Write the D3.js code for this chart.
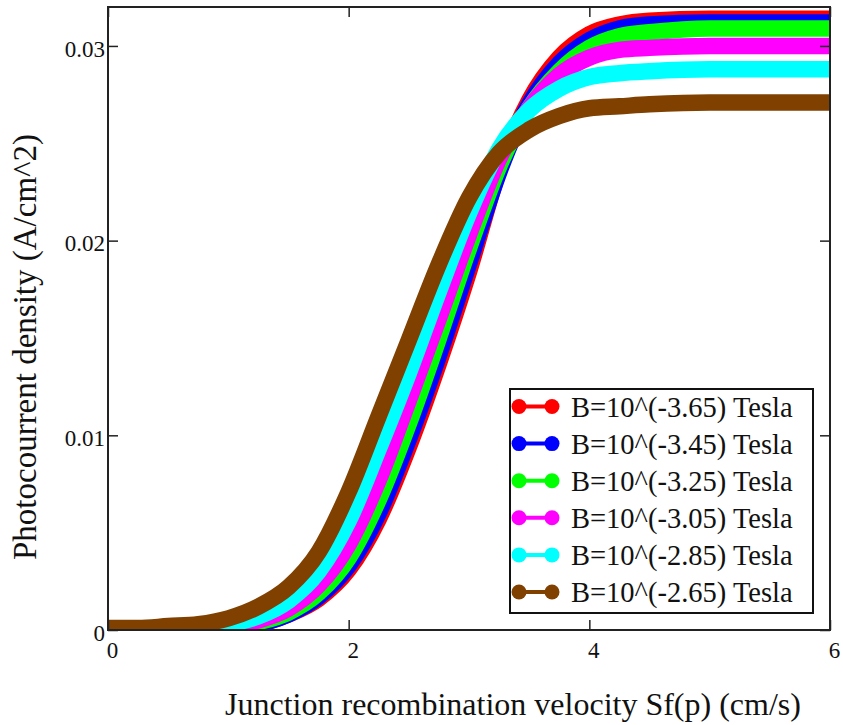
<!DOCTYPE html>
<html>
<head>
<meta charset="utf-8">
<script src="https://cdn.jsdelivr.net/npm/d3@7"></script>
<style>
    body { margin: 0; background: #fff; }
    svg { display: block; }
    .tick-label { font-family: "Liberation Serif", "Times New Roman", serif; fill: #111; }
</style>
</head>
<body>
<div id="chart_area"></div>
<script>
// values (x = log10 Sf, y = photocurrent density)
const sf_values = [0, 0.25, 0.5, 0.75, 1, 1.25, 1.5, 1.75, 2, 2.25, 2.5, 2.75, 3, 3.25, 3.5, 3.75, 4, 4.25, 4.5, 5, 5.5, 6];

const jph_b365 = [0, 0, 0, 0, 0.0001, 0.0003, 0.0008, 0.0016, 0.0031, 0.0057, 0.0094, 0.0137, 0.0184, 0.0236, 0.0272, 0.0294, 0.0306, 0.0311, 0.0313, 0.0314, 0.0314, 0.0314];
const jph_b345 = [0, 0, 0, 0, 0.0001, 0.0003, 0.0008, 0.0017, 0.0033, 0.0060, 0.0098, 0.0141, 0.0188, 0.0235, 0.0270, 0.0291, 0.0303, 0.0309, 0.0311, 0.0312, 0.0312, 0.0312];
const jph_b325 = [0, 0, 0, 0, 0.0001, 0.0004, 0.0009, 0.0019, 0.0037, 0.0067, 0.0106, 0.0150, 0.0196, 0.0238, 0.0268, 0.0287, 0.0299, 0.0305, 0.0307, 0.0309, 0.0309, 0.0309];
const jph_b305 = [0, 0, 0, 0, 0.0002, 0.0005, 0.0011, 0.0023, 0.0044, 0.0077, 0.0118, 0.0160, 0.0203, 0.0242, 0.0268, 0.0285, 0.0294, 0.0298, 0.0299, 0.0300, 0.0300, 0.0300];
const jph_b285 = [0, 0, 0, 0.0001, 0.0003, 0.0007, 0.0015, 0.0030, 0.0056, 0.0093, 0.0132, 0.0174, 0.0214, 0.0247, 0.0267, 0.0278, 0.0284, 0.0286, 0.0287, 0.0288, 0.0288, 0.0288];
const jph_b265 = [0.0001, 0.0001, 0.0002, 0.0003, 0.0006, 0.0012, 0.0022, 0.0040, 0.0071, 0.0110, 0.0149, 0.0188, 0.0222, 0.0245, 0.0257, 0.0264, 0.0268, 0.0269, 0.0270, 0.0271, 0.0271, 0.0271];

const series_labels = [
    "B=10^(-3.65) Tesla",
    "B=10^(-3.45) Tesla",
    "B=10^(-3.25) Tesla",
    "B=10^(-3.05) Tesla",
    "B=10^(-2.85) Tesla",
    "B=10^(-2.65) Tesla"
];
const series_colors = ["#ff0000", "#0000ff", "#00ff00", "#ff00ff", "#00ffff", "#804000"];
const series_values = [jph_b365, jph_b345, jph_b325, jph_b305, jph_b285, jph_b265];

const x_ticks = [0, 2, 4, 6];
const y_ticks = [0, 0.01, 0.02, 0.03];
const y_tick_labels = ["0", "0.01", "0.02", "0.03"];

const x_title = "Junction recombination velocity Sf(p) (cm/s)";
const y_title = "Photocourrent density (A/cm^2)";

const WIDTH = 843;
const HEIGHT = 725;
const LINE_WIDTH = 16.5;
const TICK_LENGTH = 10;

let plot = {left: 108, right: 830, top: 7, bottom: 630};

let svg = d3.select("#chart_area")
    .append("svg")
    .attr("width", WIDTH)
    .attr("height", HEIGHT);

let x = d3.scaleLinear()
    .domain([0, 6])
    .range([plot.left, plot.right]);

let y = d3.scaleLinear()
    .domain([0, 0.032])
    .range([plot.bottom, plot.top]);

svg.append("clipPath")
    .attr("id", "plot_clip")
    .append("rect")
    .attr("x", plot.left)
    .attr("y", plot.top)
    .attr("width", plot.right - plot.left)
    .attr("height", plot.bottom - plot.top);

let line = d3.line()
    .x(function (d) { return x(d[0]); })
    .y(function (d) { return y(d[1]); })
    .curve(d3.curveMonotoneX);

// red goes down first, brown ends up on top like in the original
let curves = svg.append("g").attr("clip-path", "url(#plot_clip)");
curves.selectAll("path")
    .data(series_values)
    .enter()
    .append("path")
    .attr("d", function (vals) {
        return line(sf_values.map(function (s, i) { return [s, vals[i]]; }));
    })
    .attr("fill", "none")
    .attr("stroke", function (d, i) { return series_colors[i]; })
    .attr("stroke-width", LINE_WIDTH)
    .attr("stroke-linejoin", "round");

// axes, ticks pointing inwards on all four sides
let bottom_axis = d3.axisBottom(x)
    .tickValues(x_ticks)
    .tickFormat(d3.format("d"))
    .tickSizeInner(-TICK_LENGTH)
    .tickSizeOuter(0)
    .tickPadding(12);

let left_axis = d3.axisLeft(y)
    .tickValues(y_ticks)
    .tickFormat(function (d, i) { return y_tick_labels[i]; })
    .tickSizeInner(-TICK_LENGTH)
    .tickSizeOuter(0)
    .tickPadding(3);

let gx = svg.append("g")
    .attr("transform", "translate(0," + plot.bottom + ")")
    .call(bottom_axis);
gx.selectAll("text").attr("dx", 4);

let gy = svg.append("g")
    .attr("transform", "translate(" + plot.left + ",0)")
    .call(left_axis);
gy.selectAll("text").attr("dy", "0.45em");

let gx_top = svg.append("g")
    .attr("transform", "translate(0," + plot.top + ")")
    .call(d3.axisTop(x).tickValues(x_ticks).tickFormat("").tickSizeInner(-TICK_LENGTH).tickSizeOuter(0));

let gy_right = svg.append("g")
    .attr("transform", "translate(" + plot.right + ",0)")
    .call(d3.axisRight(y).tickValues(y_ticks).tickFormat("").tickSizeInner(-TICK_LENGTH).tickSizeOuter(0));

[gx, gy, gx_top, gy_right].forEach(function (g) {
    g.select(".domain").remove();
    g.selectAll("line").attr("stroke", "#222").attr("stroke-width", 1.5);
    g.selectAll("text")
        .attr("class", "tick-label")
        .style("font-size", "23px")
        .attr("fill", "#111");
});

svg.append("rect")
    .attr("x", plot.left)
    .attr("y", plot.top)
    .attr("width", plot.right - plot.left)
    .attr("height", plot.bottom - plot.top)
    .attr("fill", "none")
    .attr("stroke", "#222")
    .attr("stroke-width", 2);

// axis titles
svg.append("text")
    .attr("class", "tick-label")
    .attr("x", 513)
    .attr("y", 715)
    .attr("text-anchor", "middle")
    .style("font-size", "32px")
    .text(x_title);

svg.append("text")
    .attr("class", "tick-label")
    .attr("transform", "translate(36,347) rotate(-90)")
    .attr("text-anchor", "middle")
    .style("font-size", "33px")
    .text(y_title);

// legend
let legend = {left: 510, top: 389, width: 303, height: 224, row0: 406.5, row_step: 37.1};

let lg = svg.append("g");
lg.append("rect")
    .attr("x", legend.left)
    .attr("y", legend.top)
    .attr("width", legend.width)
    .attr("height", legend.height)
    .attr("fill", "#fff")
    .attr("stroke", "#111")
    .attr("stroke-width", 2);

let rows = lg.selectAll("g.row")
    .data(series_labels)
    .enter()
    .append("g")
    .attr("class", "row")
    .attr("transform", function (d, i) {
        return "translate(0," + (legend.row0 + i * legend.row_step) + ")";
    });

rows.append("line")
    .attr("x1", 519).attr("x2", 552)
    .attr("stroke", function (d, i) { return series_colors[i]; })
    .attr("stroke-width", 4);

rows.selectAll("circle")
    .data(function (d, i) { return [[519, i], [552, i]]; })
    .enter()
    .append("circle")
    .attr("cx", function (d) { return d[0]; })
    .attr("r", 7.5)
    .attr("fill", function (d) { return series_colors[d[1]]; });

rows.append("text")
    .attr("class", "tick-label")
    .attr("x", 571)
    .attr("y", 10)
    .style("font-size", "28.5px")
    .text(function (d) { return d; });
</script>
</body>
</html>
